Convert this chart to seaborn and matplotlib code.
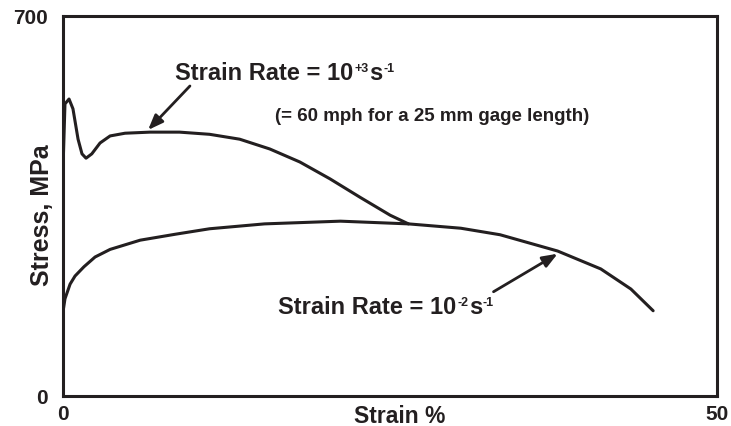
import numpy as np
import pandas as pd
import matplotlib
matplotlib.use("Agg")
import matplotlib.pyplot as plt
import seaborn as sns

# ==========================
# data
# ==========================

fast_strain = [0.0, 0.0, 0.15, 0.46, 0.76, 1.15, 1.45, 1.76, 2.2, 2.83, 3.6, 4.74,
               6.65, 8.9, 11.2, 13.5, 15.8, 18.1, 20.4, 22.7, 25.0, 26.4]
fast_stress = [322, 516, 538, 547, 529, 473, 446, 438, 446, 466, 479, 484,
               486, 486, 482, 473, 455, 431, 400, 366, 333, 317]

slow_strain = [0.0, 0.15, 0.54, 0.92, 1.6, 2.45, 3.6, 5.9, 8.6, 11.2, 15.4, 21.2,
               26.4, 30.4, 33.4, 37.8, 41.1, 43.4, 45.1]
slow_stress = [155, 179, 206, 221, 238, 256, 270, 287, 298, 308, 317, 322,
               317, 309, 297, 267, 234, 197, 157]

x_ticks = [0, 50]
y_ticks = [0, 700]

fast_df = pd.DataFrame({"strain": fast_strain, "stress": fast_stress})
slow_df = pd.DataFrame({"strain": slow_strain, "stress": slow_stress})

# ==========================
# style
# ==========================

sns.set_style("white")
plt.rcParams["font.family"] = ["Liberation Sans", "DejaVu Sans"]
plt.rcParams["font.weight"] = "bold"

ink = "#231f20"

fig = plt.figure(figsize=(7.31, 4.27), dpi=100)
ax = fig.add_axes([0.0862, 0.0703, 0.895, 0.890])

sns.lineplot(data=fast_df, x="strain", y="stress", sort=False,
             color=ink, linewidth=2.2, ax=ax)
sns.lineplot(data=slow_df, x="strain", y="stress", sort=False,
             color=ink, linewidth=2.2, ax=ax)

ax.set_xlim(0, 50)
ax.set_ylim(0, 700)
ax.set_xticks(x_ticks)
ax.set_yticks(y_ticks)
ax.set_xticklabels([str(v) for v in x_ticks], fontsize=15, fontweight="bold", color=ink)
ax.set_yticklabels([str(v) for v in y_ticks], fontsize=15, fontweight="bold", color=ink)
ax.tick_params(axis="x", length=0, pad=6)
ax.tick_params(axis="y", length=0, pad=11)

for s in ax.spines.values():
    s.set_linewidth(2.2)
    s.set_color(ink)

ax.set_xlabel("Strain %", fontsize=16.5, fontweight="bold", color=ink)
ax.xaxis.set_label_coords(0.515, -0.02)
ax.set_ylabel("Stress, MPa", fontsize=18, fontweight="bold", color=ink)
ax.yaxis.set_label_coords(-0.014, 0.479)

# ==========================
# annotations
# ==========================

def rate_label(x, y, base, exp):
    # "Strain Rate = 10^exp s^-1" with small superscripts
    t1 = ax.text(x, y, base, fontsize=17, fontweight="bold", color=ink,
                 ha="left", va="center")
    t2 = ax.annotate(exp, xy=(1, 1), xycoords=t1, xytext=(1, -1),
                     textcoords="offset points", fontsize=9, fontweight="bold",
                     color=ink, ha="left", va="top")
    t3 = ax.annotate("s", xy=(1, 0), xycoords=(t2, t1), xytext=(0.5, 0),
                     textcoords="offset points", fontsize=17, fontweight="bold",
                     color=ink, ha="left", va="bottom")
    ax.annotate("-1", xy=(1, 1), xycoords=(t3, t1), xytext=(0.5, -1),
                textcoords="offset points", fontsize=9, fontweight="bold",
                color=ink, ha="left", va="top")

rate_label(8.55, 596, "Strain Rate = 10", "+3")
rate_label(16.4, 165, "Strain Rate = 10", "-2")

ax.text(16.2, 517, "(= 60 mph for a 25 mm gage length)",
        fontsize=13.5, fontweight="bold", color=ink, ha="left", va="center")

arrow = dict(arrowstyle="-|>,head_length=0.9,head_width=0.35",
             color=ink, lw=2, shrinkA=0, shrinkB=0)
ax.annotate("", xy=(6.5, 490), xytext=(9.7, 571), arrowprops=arrow)
ax.annotate("", xy=(37.8, 262), xytext=(32.9, 192), arrowprops=arrow)

plt.savefig("out.png", dpi=100)
